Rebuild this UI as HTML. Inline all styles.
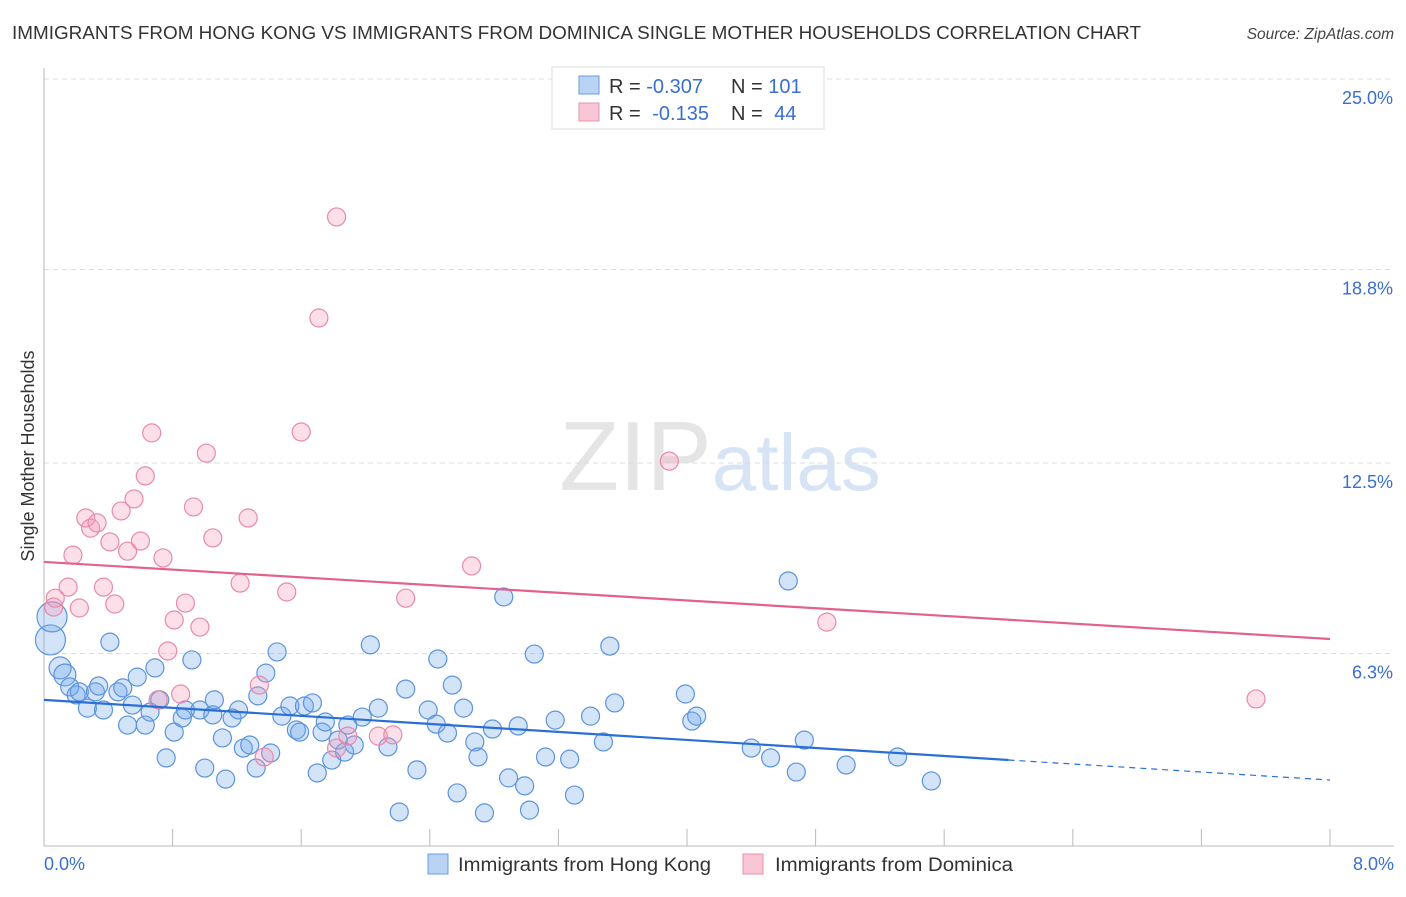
<!DOCTYPE html>
<html><head><meta charset="utf-8"><style>
body{margin:0;background:#fff;font-family:"Liberation Sans",sans-serif;}
svg text{font-family:"Liberation Sans",sans-serif;}
</style></head><body>
<svg id="chart" width="1406" height="892" viewBox="0 0 1406 892" xmlns="http://www.w3.org/2000/svg">
<text x="12" y="39" font-size="18" fill="#333" textLength="1129" lengthAdjust="spacingAndGlyphs">IMMIGRANTS FROM HONG KONG VS IMMIGRANTS FROM DOMINICA SINGLE MOTHER HOUSEHOLDS CORRELATION CHART</text>
<text x="1394" y="39" font-size="15.5" fill="#444" text-anchor="end" font-style="italic">Source: ZipAtlas.com</text>
<text x="720" y="490" font-size="98" text-anchor="middle" fill="#ddd" font-family="Liberation Serif" opacity="0.75">ZIP<tspan fill="#c9dcf2" font-family="Liberation Sans" font-size="80">atlas</tspan></text>
<g id="grid"></g><g id="axes"></g><g id="marks"></g><g id="lines"></g>
<text transform="translate(34,456) rotate(-90)" font-size="18" fill="#333" text-anchor="middle">Single Mother Households</text>
<g>
<rect x="552" y="67" width="272" height="62" fill="#fff" stroke="#ddd"/>
<rect x="579" y="76" width="20" height="18" fill="#b9d3f5" stroke="#6a9be0"/>
<rect x="579" y="103" width="20" height="18" fill="#f9c6d6" stroke="#e890ac"/>
<text x="609" y="93" font-size="20" fill="#333">R = <tspan fill="#3a6fd0">-0.307</tspan></text>
<text x="731" y="93" font-size="20" fill="#333">N = <tspan fill="#3a6fd0">101</tspan></text>
<text x="609" y="120" font-size="20" fill="#333">R = <tspan fill="#3a6fd0" dx="6">-0.135</tspan></text>
<text x="731" y="120" font-size="20" fill="#333">N = <tspan fill="#3a6fd0" dx="6">44</tspan></text>
</g>
<g>
<rect x="428" y="854" width="20" height="20" fill="#b9d3f5" stroke="#6a9be0"/>
<text x="458" y="871" font-size="19" fill="#333" textLength="253" lengthAdjust="spacingAndGlyphs">Immigrants from Hong Kong</text>
<rect x="743" y="854" width="20" height="20" fill="#f9c6d6" stroke="#e890ac"/>
<text x="775" y="871" font-size="19" fill="#333" textLength="238" lengthAdjust="spacingAndGlyphs">Immigrants from Dominica</text>
</g>
</svg>
<script>
const yTicks=[25.0,18.8,12.5,6.3];
const yTickLabels=["25.0%","18.8%","12.5%","6.3%"];
const xTickVals=[0,0.8,1.6,2.4,3.2,4.0,4.8,5.6,6.4,7.2,8.0];
const xEndLabels=["0.0%","8.0%"];
const hkX=[0.04,0.05,0.10,0.13,0.16,0.20,0.22,0.27,0.32,0.34,0.37,0.41,0.46,0.49,0.52,0.55,0.58,0.63,0.66,0.69,0.72,0.76,0.81,0.86,0.88,0.92,0.97,1.00,1.05,1.06,1.11,1.13,1.17,1.21,1.24,1.28,1.32,1.33,1.38,1.41,1.45,1.48,1.53,1.57,1.59,1.62,1.67,1.70,1.73,1.75,1.79,1.83,1.87,1.89,1.93,1.98,2.03,2.08,2.14,2.21,2.25,2.32,2.39,2.44,2.45,2.51,2.54,2.57,2.61,2.68,2.70,2.74,2.79,2.86,2.89,2.95,2.99,3.02,3.05,3.12,3.18,3.27,3.30,3.40,3.48,3.52,3.55,3.99,4.03,4.06,4.40,4.52,4.63,4.68,4.73,4.99,5.31,5.52];
const hkY=[6.74,7.49,5.83,5.60,5.21,4.95,5.05,4.52,5.05,5.24,4.46,6.67,5.05,5.18,3.97,4.62,5.53,3.97,4.39,5.83,4.79,2.90,3.74,4.20,4.46,6.09,4.46,2.57,4.30,4.79,3.55,2.21,4.20,4.46,3.22,3.32,2.57,4.92,5.66,3.06,6.35,4.26,4.59,3.81,3.74,4.59,4.69,2.41,3.74,4.07,2.83,3.48,3.09,3.97,3.32,4.23,6.58,4.52,3.26,1.14,5.14,2.51,4.46,4.00,6.12,3.71,5.27,1.76,4.52,3.42,2.93,1.11,3.84,8.14,2.25,3.94,1.99,1.20,6.28,2.93,4.13,2.86,1.69,4.26,3.42,6.54,4.69,4.98,4.10,4.26,3.22,2.90,8.66,2.44,3.48,2.67,2.93,2.15];
const dmX=[0.06,0.07,0.15,0.18,0.22,0.26,0.29,0.33,0.37,0.41,0.44,0.48,0.52,0.56,0.60,0.63,0.67,0.71,0.74,0.77,0.81,0.85,0.88,0.93,0.97,1.01,1.05,1.22,1.27,1.34,1.37,1.51,1.60,1.71,1.82,1.82,1.89,2.08,2.17,2.25,2.66,3.89,4.87,7.54];
const dmY=[7.81,8.10,8.46,9.50,7.78,10.71,10.38,10.55,8.46,9.93,7.91,10.94,9.63,11.33,9.96,12.08,13.48,4.79,9.41,6.38,7.39,4.98,7.94,11.07,7.16,12.82,10.06,8.59,10.71,5.27,2.93,8.30,13.51,17.22,20.51,3.22,3.61,3.61,3.65,8.10,9.15,12.56,7.32,4.82];
const hkTrend=[4.79,2.18]; const hkSolidEnd=6.0;
const dmTrend=[9.28,6.77];
const NS="http://www.w3.org/2000/svg";
const sx=v=>44+v/8*1286, sy=v=>847-v*192/6.25;
function mk(tag,attrs,parent){const e=document.createElementNS(NS,tag);for(const k in attrs)e.setAttribute(k,attrs[k]);document.getElementById(parent).appendChild(e);return e;}
yTicks.forEach((t,i)=>{
 const g=mk('line',{x1:44,x2:1394,y1:sy(t),y2:sy(t),stroke:'#ddd','stroke-dasharray':'5,4'},'grid');
 
 
 const l=mk('text',{x:1393,y:sy(t)+25,'font-size':18,fill:'#3a6fd0','text-anchor':'end'},'axes');
 l.textContent=yTickLabels[i];
 
 
});
const ax=mk('line',{x1:44,x2:44,y1:68,y2:846,stroke:'#bbb'},'axes');


const bx=mk('line',{x1:44,x2:1394,y1:846,y2:846,stroke:'#bbb'},'axes');


xTickVals.forEach(v=>{
 const t=mk('line',{x1:sx(v),x2:sx(v),y1:829,y2:846,stroke:'#bbb'},'axes');
 
 
});
[[0,'start',44],[8,'end',1394]].forEach((d,i)=>{
 const l=mk('text',{x:d[2],y:870,'font-size':18,fill:'#3a6fd0','text-anchor':d[1]},'axes');
 l.textContent=xEndLabels[i];
 
 
});
hkX.forEach((x,i)=>{
 const r=i<2?15:(i<4?11:9);
 const c=mk('circle',{cx:sx(x),cy:sy(hkY[i]),r:r,fill:'rgba(110,165,235,0.3)',stroke:'#5b93dd','stroke-width':1.2},'marks');
 
 
});
dmX.forEach((x,i)=>{
 const c=mk('circle',{cx:sx(x),cy:sy(dmY[i]),r:9,fill:'rgba(245,150,180,0.3)',stroke:'#e88aa9','stroke-width':1.2},'marks');
 
 
});
const hkAt=v=>hkTrend[0]+(hkTrend[1]-hkTrend[0])*v/8;
const l1=mk('line',{x1:sx(0),y1:sy(hkTrend[0]),x2:sx(hkSolidEnd),y2:sy(hkAt(hkSolidEnd)),stroke:'#2a6fd6','stroke-width':2.2},'lines');


const l2=mk('line',{x1:sx(hkSolidEnd),y1:sy(hkAt(hkSolidEnd)),x2:sx(8),y2:sy(hkTrend[1]),stroke:'#2a6fd6','stroke-width':1.2,'stroke-dasharray':'6,5'},'lines');


const l3=mk('line',{x1:sx(0),y1:sy(dmTrend[0]),x2:sx(8),y2:sy(dmTrend[1]),stroke:'#e2628d','stroke-width':2.2},'lines');


</script>
</body></html>
